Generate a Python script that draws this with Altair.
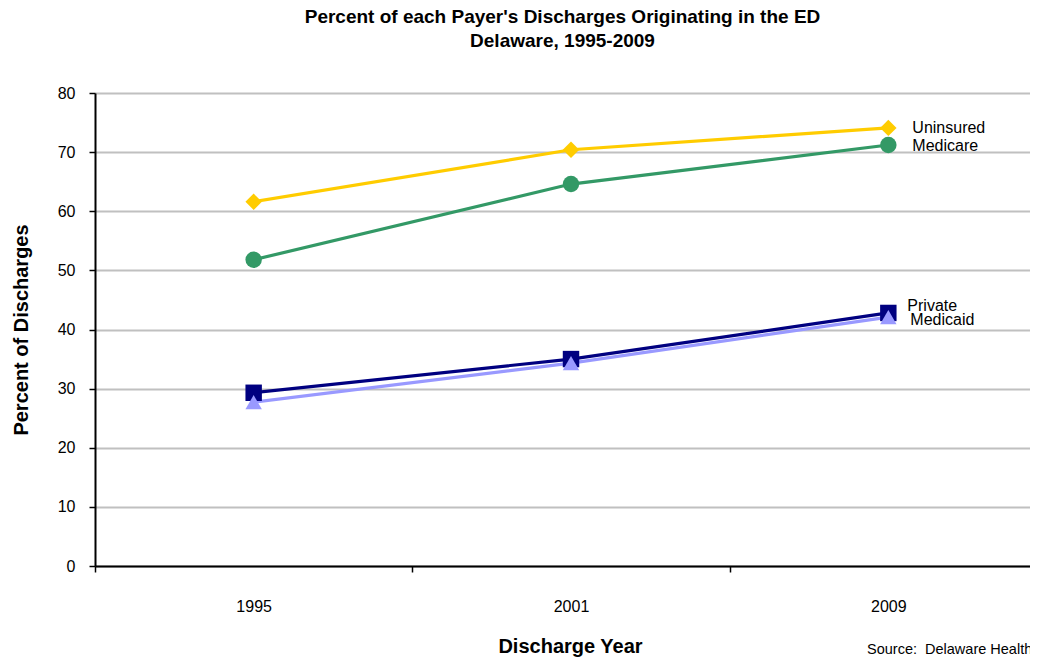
import altair as alt
import pandas as pd

years = ["1995", "2001", "2009"]
series = ["Uninsured", "Medicare", "Private", "Medicaid"]
uninsured = [61.6, 70.4, 74.1]
medicare = [51.8, 64.6, 71.2]
private = [29.3, 35.0, 42.8]
medicaid = [27.7, 34.3, 42.1]
colors = ["#FFCC00", "#339966", "#000080", "#9999FF"]
shapes = ["diamond", "circle", "square", "triangle-up"]

rows = []
for name, vals in zip(series, [uninsured, medicare, private, medicaid]):
    for y, v in zip(years, vals):
        rows.append({"year": y, "series": name, "value": v})
df = pd.DataFrame(rows)

FONT = "Liberation Sans"

x_scale = alt.Scale(type="band", paddingInner=0, paddingOuter=0, range=[0, 952])
x_enc = alt.X("year:N", sort=years, bandPosition=0.5, scale=x_scale,
              axis=alt.Axis(title="Discharge Year", tickBand="extent", labelAngle=0,
                            labelFontSize=16, labelFont=FONT, labelColor="black",
                            labelPadding=26, titleFontSize=20, titleFont=FONT,
                            titleFontWeight="bold", titleColor="black", titlePadding=22,
                            titleX=475, domainColor="black", domainWidth=2, tickColor="black",
                            tickWidth=1.5, tickSize=6, grid=False))
y_enc = alt.Y("value:Q",
              scale=alt.Scale(domain=[0, 80]),
              axis=alt.Axis(title="Percent of Discharges", values=list(range(0, 81, 10)),
                            labelFontSize=16, labelFont=FONT, labelColor="black",
                            labelPadding=14, titleFontSize=20, titleFont=FONT,
                            titleFontWeight="bold", titleColor="black", titlePadding=26,
                            domainColor="black", domainWidth=2, tickColor="black",
                            tickWidth=1.5, tickSize=6, gridColor="#c0c0c0", gridWidth=2))
color_enc = alt.Color("series:N", scale=alt.Scale(domain=series, range=colors), legend=None)
shape_enc = alt.Shape("series:N", scale=alt.Scale(domain=series, range=shapes), legend=None)

base = alt.Chart(df)
lines = base.mark_line(strokeWidth=3.2).encode(x=x_enc, y=y_enc, color=color_enc,
                                               detail="series:N")
points = base.mark_point(filled=True, opacity=1, size=270).encode(
    x=x_enc, y=y_enc, color=color_enc, shape=shape_enc)

last = df[df["year"] == "2009"]
label_offsets = {"Uninsured": (24, 0), "Medicare": (24, 1), "Private": (19, -7), "Medicaid": (22, 3)}
labels = []
for name in series:
    dx, dy = label_offsets[name]
    labels.append(alt.Chart(last[last["series"] == name]).mark_text(
        align="left", baseline="middle", dx=dx, dy=dy, fontSize=16, font=FONT, color="black"
    ).encode(x=alt.X("year:N", sort=years, bandPosition=0.5, scale=x_scale), y="value:Q",
             text="series:N"))

source = alt.Chart(pd.DataFrame({"t": ["Source:\u00a0\u00a0Delaware Health and Social Services"]})).mark_text(
    align="left", baseline="middle", fontSize=14.5, font=FONT, color="black"
).encode(x=alt.value(772), y=alt.value(557), text="t:N")

chart = alt.layer(lines, points, *labels, source).properties(
    width=935, height=473,
    title=alt.TitleParams(["Percent of each Payer's Discharges Originating in the ED",
                           "Delaware, 1995-2009"],
                          fontSize=19, font=FONT, fontWeight="bold", color="black",
                          anchor="middle", lineHeight=24, offset=34),
    autosize=alt.AutoSizeParams(type="none"),
    padding={"left": 87, "top": 85, "right": 0, "bottom": 92},
).configure_view(stroke=None).configure(background="white")

chart.save("out.html", embed_options={"renderer": "svg", "actions": False})
